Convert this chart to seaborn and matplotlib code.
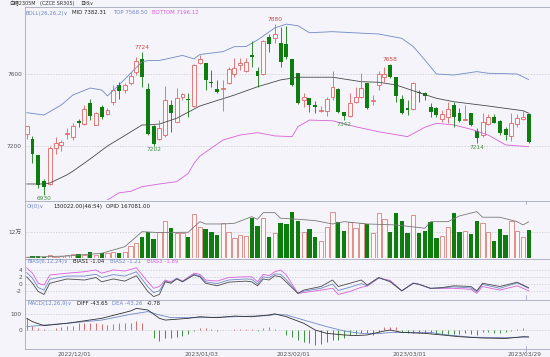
import matplotlib
matplotlib.use("Agg")
import matplotlib.pyplot as plt
import matplotlib.transforms as mtransforms
import numpy as np
import seaborn as sns

# ---------------- data ----------------
opens = [7265,7237,7150,7006,6989,7187,7206,7269,7248,7339,
         7321,7441,7317,7418,7378,7446,7539,7511,7552,7613,
         7682,7515,7311,7237,7261,7428,7335,7471,7459,7422,
         7659,7659,7554,7517,7519,7548,7598,7650,7618,7703,
         7618,7600,7804,7798,7774,7767,7682,7607,7456,7465,
         7426,7397,7396,7474,7519,7389,7367,7446,7472,7548,
         7452,7539,7582,7650,7582,7459,7409,7404,7502,7493,
         7418,7413,7348,7359,7428,7385,7347,7382,7283,7261,
         7322,7359,7339,7293,7256,7322,7352,7376]
highs = [7313,7256,7152,7017,7200,7250,7233,7300,7328,7348,
         7428,7459,7391,7428,7411,7539,7557,7552,7613,7696,
         7724,7548,7317,7344,7533,7456,7521,7493,7493,7656,
         7706,7661,7622,7567,7567,7641,7687,7687,7687,7783,
         7641,7789,7822,7880,7863,7867,7683,7607,7494,7467,
         7452,7422,7472,7617,7522,7389,7493,7529,7604,7550,
         7483,7618,7641,7658,7582,7483,7456,7557,7511,7502,
         7437,7415,7400,7446,7446,7409,7428,7382,7298,7382,
         7376,7376,7344,7307,7382,7378,7396,7382]
lows = [7239,7107,6967,6930,6983,7156,7174,7237,7233,7306,
        7317,7344,7314,7348,7372,7428,7459,7494,7539,7594,
        7529,7261,7202,7233,7252,7279,7333,7456,7363,7417,
        7656,7511,7529,7494,7394,7544,7585,7622,7613,7641,
        7529,7594,7724,7771,7641,7683,7533,7436,7418,7391,
        7382,7389,7367,7458,7386,7342,7363,7437,7465,7407,
        7428,7511,7557,7576,7446,7378,7372,7400,7446,7456,
        7363,7363,7335,7326,7307,7335,7344,7311,7214,7252,
        7317,7326,7261,7233,7229,7307,7344,7218]
closes = [7311,7154,6983,6972,7189,7215,7221,7272,7311,7326,
          7404,7367,7385,7363,7400,7511,7507,7539,7589,7674,
          7582,7265,7210,7298,7456,7385,7465,7487,7455,7650,
          7682,7567,7550,7502,7522,7626,7632,7663,7668,7697,
          7589,7785,7767,7821,7668,7693,7539,7441,7471,7428,
          7417,7400,7459,7525,7389,7364,7439,7471,7521,7409,
          7456,7600,7598,7582,7478,7382,7400,7552,7493,7479,
          7391,7372,7376,7404,7359,7341,7350,7317,7243,7335,
          7363,7329,7274,7259,7326,7354,7363,7224]
volume = [7300,10500,10500,7300,15100,7300,10500,13700,18300,19700,
          15100,30200,15100,22900,22900,27500,22900,27500,56300,71400,
          96200,121800,87000,121800,172200,137400,114500,114500,98900,201500,
          144700,132800,119100,106700,160300,121800,91600,106700,102100,183200,
          147900,183200,96200,117200,163000,157100,213400,172200,121800,132800,
          96200,80600,142000,213400,167600,126400,167600,137400,163000,157100,
          114500,206100,178600,121800,206100,172200,117200,198300,114500,126400,
          167600,91600,102100,142000,208800,121800,126400,111300,172200,160300,
          121800,80600,132800,106700,172200,126400,96200,130022]

oi_idx = [0,7,13,17,20,23,28,30,31,34,36,39,40,41,43,44,47,50,53,55,
          59,64,69,70,73,75,78,79,82,85,86,87]
oi_val = [4600,10500,22900,53100,121800,117200,119100,167600,157000,157000,
          160000,190500,178600,208800,208800,183200,178600,172200,157000,167600,
          157000,152500,137400,167600,167600,193700,213400,187800,187800,167600,
          152500,167081]

boll_up_idx = [0,3,6,8,11,13,14,16,18,20,21,23,27,29,30,34,36,38,40,41,
               43,45,47,49,53,59,61,65,67,69,71,74,78,80,85,87]
boll_up = [7385,7372,7428,7483,7522,7511,7478,7539,7604,7668,
           7674,7675,7703,7684,7708,7724,7752,7752,7789,7811,
           7856,7877,7868,7829,7835,7825,7822,7798,7752,7678,
           7600,7594,7613,7604,7600,7568.5]
boll_mid_idx = [0,3,4,7,8,11,14,17,20,21,23,26,30,36,40,44,47,53,58,61,
                64,68,71,74,80,86,87]
boll_mid = [6989,6989,6994,7040,7060,7128,7200,7258,7317,7317,
            7322,7354,7422,7483,7529,7567,7582,7582,7557,7554,
            7539,7496,7465,7446,7422,7396,7382.31]
boll_lo_idx = [13,14,16,18,20,23,26,28,29,30,34,37,40,43,46,47,49,53,57,61,
               66,69,71,74,77,80,83,87]
boll_lo = [6890,6900,6940,6948,6974,6989,7002,7048,7104,7143,
           7233,7261,7274,7256,7252,7307,7344,7340,7307,7279,
           7252,7304,7326,7317,7293,7261,7206,7196.12]

bias_idx = [0,1,2,3,4,7,10,12,13,15,17,19,21,22,23,24,25,26,27,29,
            30,31,33,35,38,39,40,41,42,43,44,45,47,48,51,53,54,56,58,59,
            61,63,65,67,68,70,72,74,77,78,79,82,85,87]
bias1 = [2.0,0.2,-2.1,-2.9,0.2,1.4,1.1,1.8,0.6,1.4,
         0.8,2.3,-2.1,-3.5,-2.9,0.6,0.2,1.4,0.6,2.5,
         2.0,0.2,-0.5,0.5,0.8,0.6,-0.5,1.4,1.1,2.3,
         2.0,0.5,-2.6,-1.7,-0.7,1.1,-0.7,0.2,1.1,-0.3,
         1.8,0.6,-1.9,0.2,-0.1,-1.2,-1.0,-0.5,-0.7,-1.9,
         0.2,-0.7,0.5,-1.04]
bias2 = [3.2,1.6,-1.0,-1.7,1.3,2.2,2.2,2.7,1.8,2.6,
         2.2,3.4,-0.8,-2.4,-1.9,0.8,0.4,1.5,0.7,2.7,
         2.3,0.6,0.1,1.1,1.4,1.3,0.0,2.0,1.7,2.8,
         2.7,1.2,-2.6,-2.0,-1.2,0.0,-1.8,-0.9,0.1,-0.5,
         1.7,0.8,-1.9,0.2,-0.1,-1.2,-1.1,-0.8,-1.1,-2.2,
         -0.1,-1.2,0.3,-1.21]
bias3 = [4.5,3.0,0.2,-0.3,2.5,3.0,3.4,3.9,3.0,3.9,
         3.6,4.5,0.6,-1.2,-0.7,1.1,0.6,1.6,0.8,3.0,
         2.7,1.1,0.8,1.8,2.0,2.0,0.6,2.7,2.3,3.4,
         3.9,2.5,-2.6,-2.4,-1.7,-1.2,-2.9,-2.1,-0.9,-0.6,
         1.6,1.0,-1.9,0.3,-0.1,-1.3,-1.2,-1.2,-1.5,-2.6,
         -0.7,-1.7,-0.5,-1.89]

diff_idx = [0,1,3,4,7,13,18,19,21,23,24,28,30,33,36,39,42,43,45,48,
            50,52,55,57,59,62,63,65,69,72,75,79,83,86,87]
diff_val = [73,52,27,31,42,73,119,135,125,73,62,73,83,77,87,83,94,101,83,42,
            0,-21,-31,-35,-31,-6,0,-15,-21,-31,-42,-50,-53,-42,-43.65]
dea_idx = [0,3,7,13,18,21,23,25,30,36,42,43,45,49,52,55,58,61,63,70,
           72,77,83,87]
dea_val = [21,31,42,62,98,115,94,77,77,83,90,97,94,52,21,-6,-21,-23,-15,-15,
           -27,-45,-48,-43.26]
macd_hist = [73,27,15,4,0,15,21,25,27,42,
             42,46,42,35,31,37,42,46,42,56,
             42,-2,-48,-69,-52,-52,-42,-35,-27,-4,
             15,10,4,-6,-2,2,6,4,6,4,
             -4,15,21,8,-2,-31,-42,-62,-77,-83,
             -94,-90,-77,-62,-62,-52,-31,-27,-21,-21,
             -31,-15,17,21,17,-15,-21,-21,-21,-21,
             -21,-27,-27,-27,-27,-27,-21,-27,-31,-15,
             -15,-21,-21,-15,-6,6,10,-0.78]

hi_marks = [20, 43, 63]
lo_marks = [3, 22, 55, 78]
date_idx = [9, 31, 47, 67, 87]
date_labels = ['2022/12/01', '2023/01/03', '2023/02/01', '2023/03/01', '2023/03/29']
price_ticks = [7600, 7200]
oi_ticks = [120000]
oi_tick_labels = ['12万']
bias_ticks = [4, 2, 0, -2]
macd_ticks = [100, 0]

# ---------------- style ----------------
sns.set_style("white")
plt.rcParams['font.family'] = ['DejaVu Sans', 'Noto Sans CJK SC']

W, H = 550, 357
BG = '#f4f4fa'
RED = '#e06464'
REDF = '#fff6f6'
GREEN = '#0d7d0d'
SPINE = '#a4a8bc'
GRID = '#c8c8d4'
BLUE = '#6f88c4'
MAG = '#d95fd9'
DARK = '#4a4a4a'
FS = 4.2
HFS = 3.85

fig = plt.figure(figsize=(W / 100, H / 100), dpi=100)
fig.patch.set_facecolor(BG)

XL = (-0.295, 90.69)


def add_ax(ytop, ybot):
    ax = fig.add_axes([25 / W, 1 - ybot / H, 525 / W, (ybot - ytop) / H])
    ax.set_facecolor(BG)
    ax.set_xlim(*XL)
    for s in ['right', 'bottom']:
        ax.spines[s].set_visible(False)
    for s in ['left', 'top']:
        ax.spines[s].set_visible(True)
        ax.spines[s].set_color(SPINE)
        ax.spines[s].set_linewidth(0.6)
    ax.set_xticks([])
    ax.tick_params(axis='y', length=0, pad=2.2, labelsize=FS, labelcolor='#555555')
    ax.grid(axis='y', linestyle=(0, (2, 2)), color=GRID, linewidth=0.5)
    ax.set_axisbelow(True)
    return ax


n = len(opens)
x = np.arange(n)
o = np.array(opens, float); h = np.array(highs, float)
l = np.array(lows, float); c = np.array(closes, float)
up = c >= o

# ---------------- main price panel ----------------
ax = add_ax(7, 200)
ax.set_ylim(6900, 7972)
ax.set_yticks(price_ticks)
ax.set_yticklabels([str(v) for v in price_ticks])

sns.lineplot(x=boll_up_idx, y=boll_up, ax=ax, color=BLUE, linewidth=0.6)
sns.lineplot(x=boll_mid_idx, y=boll_mid, ax=ax, color=DARK, linewidth=0.6)
sns.lineplot(x=boll_lo_idx, y=boll_lo, ax=ax, color=MAG, linewidth=0.6)

blo = np.minimum(o, c); bhi = np.maximum(o, c)
bh = np.maximum(bhi - blo, 2.0)
ax.vlines(x[up], bhi[up], h[up], color=RED, lw=0.6)
ax.vlines(x[up], l[up], blo[up], color=RED, lw=0.6)
ax.vlines(x[~up], l[~up], h[~up], color=GREEN, lw=0.6)
ax.bar(x[up], bh[up], bottom=blo[up], width=0.68, facecolor=REDF, edgecolor=RED, linewidth=0.6)
ax.bar(x[~up], bh[~up], bottom=blo[~up], width=0.68, color=GREEN, linewidth=0)

for i in hi_marks:
    ax.annotate(f"{int(h[i])}", (i, h[i]), xytext=(0, 1.2), textcoords='offset points',
                ha='center', va='bottom', fontsize=FS, color='#d04545')
for i in lo_marks:
    t = ax.annotate(f"{int(l[i])}", (i, l[i]), xytext=(0, -1.0), textcoords='offset points',
                    ha='center', va='top', fontsize=FS, color='#3d8f3d')
    t.set_clip_on(True)

# ---------------- OI / volume panel ----------------
axv = add_ax(201, 258.3)
axv.set_ylim(0, 262000)
axv.set_yticks(oi_ticks)
axv.set_yticklabels(oi_tick_labels)
vol = np.array(volume, float)
axv.bar(x[up], vol[up], width=0.75, facecolor=REDF, edgecolor='#d98080', linewidth=0.6)
axv.bar(x[~up], vol[~up], width=0.75, color=GREEN, linewidth=0)
sns.lineplot(x=oi_idx, y=oi_val, ax=axv, color='#7a7a7a', linewidth=0.6)
axv.axvline(date_idx[-1] - 0.5, ymin=0.94, ymax=1.0, color=SPINE, lw=0.6)

# ---------------- BIAS panel ----------------
axb = add_ax(258.5, 299.5)
axb.set_ylim(-4.31, 7.08)
axb.set_yticks(bias_ticks)
axb.set_yticklabels([str(v) for v in bias_ticks])
sns.lineplot(x=bias_idx, y=bias3, ax=axb, color=MAG, linewidth=0.6)
sns.lineplot(x=bias_idx, y=bias2, ax=axb, color=BLUE, linewidth=0.6)
sns.lineplot(x=bias_idx, y=bias1, ax=axb, color=DARK, linewidth=0.6)
axb.axvline(date_idx[-1] - 0.5, ymin=0.0, ymax=0.1, color=SPINE, lw=0.6)

# ---------------- MACD panel ----------------
axm = add_ax(299.5, 348.5)
axm.spines['bottom'].set_visible(True)
axm.spines['bottom'].set_color(SPINE)
axm.spines['bottom'].set_linewidth(0.6)
axm.set_ylim(-115.6, 190.6)
axm.set_yticks(macd_ticks)
axm.set_yticklabels([str(v) for v in macd_ticks])
hist = np.array(macd_hist, float)
pos = hist >= 0
axm.vlines(x[pos], 0, hist[pos], color='#d86a6a', lw=0.7)
axm.vlines(x[~pos], 0, hist[~pos], color='#3a963a', lw=0.7)
sns.lineplot(x=dea_idx, y=dea_val, ax=axm, color=BLUE, linewidth=0.6)
sns.lineplot(x=diff_idx, y=diff_val, ax=axm, color='#303030', linewidth=0.6)
axm.set_xticks(date_idx)
axm.set_xticklabels(date_labels)
axm.tick_params(axis='x', length=0, pad=1.8, labelsize=FS, labelcolor='#555555')
shift = mtransforms.ScaledTranslation(-4 / 100, 0, fig.dpi_scale_trans)
for lab in axm.get_xticklabels():
    lab.set_transform(lab.get_transform() + shift)
axm.axvline(date_idx[-1] - 0.5, ymin=-0.08, ymax=0.06, color=SPINE, lw=0.6, clip_on=False)

for a in (ax, axv, axb, axm):
    a.set_xlabel(''); a.set_ylabel('')
    if a.get_legend():
        a.get_legend().remove()


# ---------------- header texts ----------------
def T(xp, yp, s, color='#222222', fs=HFS):
    fig.text(xp / W, 1 - yp / H, s, fontsize=fs, color=color, va='center', ha='left')


T(9, 3.2, '白糖2305M', '#333333', 3.5)
T(40, 3.2, '(CZCE SR305)', '#333333', 3.5)
T(80, 3.2, '日线∨', '#333333', 3.5)

T(26, 13, 'BOLL(26,26,2)∨', BLUE)
T(72, 13, 'MID 7382.31', '#222222')
T(113, 13, 'TOP 7568.50', BLUE)
T(152, 13, 'BOTTOM 7196.12', MAG)

T(27, 206.7, 'OI(0)∨', BLUE)
T(53, 206.7, '130022.00(46:54)', '#222222')
T(106, 206.7, 'OPID 167081.00', '#222222')

T(27, 261.5, 'BIAS(6,12,24)∨', BLUE)
T(73, 261.5, 'BIAS1 -1.04', '#222222')
T(110, 261.5, 'BIAS2 -1.21', BLUE)
T(147, 261.5, 'BIAS3 -1.89', MAG)

T(27, 303.5, 'MACD(12,26,9)∨', BLUE)
T(77, 303.5, 'DIFF -43.65', '#222222')
T(112, 303.5, 'DEA -43.26', BLUE)
T(147, 303.5, '-0.78', '#222222')

fig.savefig('out.png', dpi=100, facecolor=BG)
